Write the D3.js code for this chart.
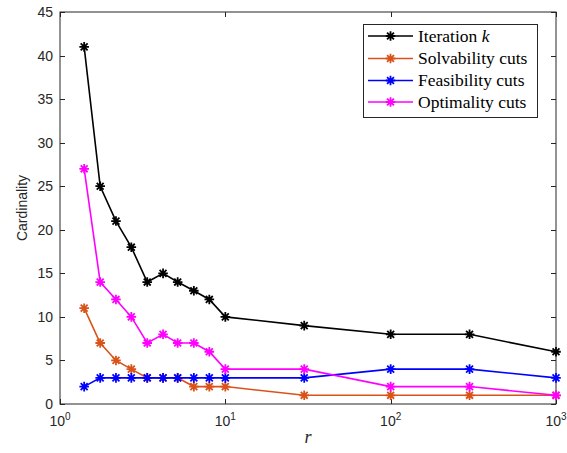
<!DOCTYPE html>
<html><head><meta charset="utf-8">
<script src="https://cdn.jsdelivr.net/npm/d3@7"></script>
<style>body{margin:0;background:#fff}svg{display:block}</style>
</head><body>
<svg id="c" width="567" height="453"></svg>
<script>
const rValues = [1.4, 1.75, 2.18, 2.7, 3.37, 4.2, 5.15, 6.45, 8, 10, 30, 100, 300, 1000];
const iterationK = [41, 25, 21, 18, 14, 15, 14, 13, 12, 10, 9, 8, 8, 6];
const solvability = [11, 7, 5, 4, 3, 3, 3, 2, 2, 2, 1, 1, 1, 1];
const feasibility = [2, 3, 3, 3, 3, 3, 3, 3, 3, 3, 3, 4, 4, 3];
const optimality = [27, 14, 12, 10, 7, 8, 7, 7, 6, 4, 4, 2, 2, 1];
const seriesNames = ["Iteration k", "Solvability cuts", "Feasibility cuts", "Optimality cuts"];
const yTicks = [0, 5, 10, 15, 20, 25, 30, 35, 40, 45];
const xTicks = [1, 10, 100, 1000];

const colors = ["#000000", "#D95319", "#0000FF", "#FF00FF"];
const series = [iterationK, solvability, feasibility, optimality];

const svg = d3.select("#c");
const L = 60, R = 556, T = 12, B = 404;
const x = d3.scaleLog().domain([1, 1000]).range([L, R]);
const y = d3.scaleLinear().domain([0, 45]).range([B, T]);
const axisCol = "#262626";

// frame
svg.append("rect").attr("x", L).attr("y", T).attr("width", R - L).attr("height", B - T)
  .attr("fill", "none").attr("stroke", axisCol).attr("stroke-width", 1);

const tl = 5;
const font = "'Liberation Sans', Arial, sans-serif";
// y ticks
yTicks.forEach(v => {
  const yy = Math.round(y(v)) + 0.5;
  svg.append("line").attr("x1", L).attr("x2", L + tl).attr("y1", yy).attr("y2", yy).attr("stroke", axisCol);
  svg.append("line").attr("x1", R).attr("x2", R - tl).attr("y1", yy).attr("y2", yy).attr("stroke", axisCol);
  svg.append("text").attr("x", L - 7).attr("y", y(v) + 5).attr("text-anchor", "end")
    .attr("font-family", font).attr("font-size", 14).attr("fill", axisCol).text(v);
});
// x ticks
xTicks.forEach(v => {
  const xx = Math.round(x(v)) + 0.5;
  svg.append("line").attr("x1", xx).attr("x2", xx).attr("y1", B).attr("y2", B - tl).attr("stroke", axisCol);
  svg.append("line").attr("x1", xx).attr("x2", xx).attr("y1", T).attr("y2", T + tl).attr("stroke", axisCol);
  const t = svg.append("text").attr("x", x(v)).attr("y", B + 22).attr("text-anchor", "middle")
    .attr("font-family", font).attr("font-size", 14).attr("fill", axisCol);
  t.append("tspan").text("10");
  t.append("tspan").attr("dy", -6).attr("font-size", 10).text(Math.round(Math.log10(v)));
});

// axis labels
svg.append("text").attr("transform", `translate(27,${(T + B) / 2}) rotate(-90)`).attr("text-anchor", "middle")
  .attr("font-family", font).attr("font-size", 14).attr("fill", axisCol).text("Cardinality");
svg.append("text").attr("x", (L + R) / 2).attr("y", 443).attr("text-anchor", "middle")
  .attr("font-family", "'Liberation Serif', serif").attr("font-style", "italic").attr("font-size", 18)
  .attr("fill", axisCol).text("r");

function asterisk(g, cx, cy, col, s) {
  const d = `M${cx - s},${cy}L${cx + s},${cy}M${cx},${cy - s}L${cx},${cy + s}` +
    `M${cx - s * 0.72},${cy - s * 0.72}L${cx + s * 0.72},${cy + s * 0.72}M${cx - s * 0.72},${cy + s * 0.72}L${cx + s * 0.72},${cy - s * 0.72}`;
  g.append("path").attr("d", d).attr("stroke", col).attr("stroke-width", 1.8).attr("fill", "none");
}

const line = d3.line().x((d, i) => x(rValues[i])).y(d => y(d));
series.forEach((s, k) => {
  const g = svg.append("g");
  g.append("path").datum(s).attr("d", line).attr("fill", "none").attr("stroke", colors[k]).attr("stroke-width", 1.6);
  s.forEach((v, i) => asterisk(g, x(rValues[i]), y(v), colors[k], 4.8));
});

// legend
const lg = svg.append("g");
lg.append("rect").attr("x", 363.5).attr("y", 24.5).attr("width", 174).attr("height", 93)
  .attr("fill", "#fff").attr("stroke", axisCol).attr("stroke-width", 1);
const rowsY = [36, 58.5, 80.5, 102];
seriesNames.forEach((n, k) => {
  const yy = rowsY[k];
  lg.append("line").attr("x1", 368).attr("x2", 413).attr("y1", yy).attr("y2", yy).attr("stroke", colors[k]).attr("stroke-width", 1.6);
  asterisk(lg, 390.5, yy, colors[k], 4.8);
  const t = lg.append("text").attr("x", 418).attr("y", yy + 5.5)
    .attr("font-family", "'Liberation Serif', 'DejaVu Serif', serif").attr("font-size", 17.5).attr("fill", "#000");
  if (k === 0) {
    t.append("tspan").text("Iteration ");
    t.append("tspan").attr("font-style", "italic").text("k");
  } else t.text(n);
});
</script>
</body></html>
